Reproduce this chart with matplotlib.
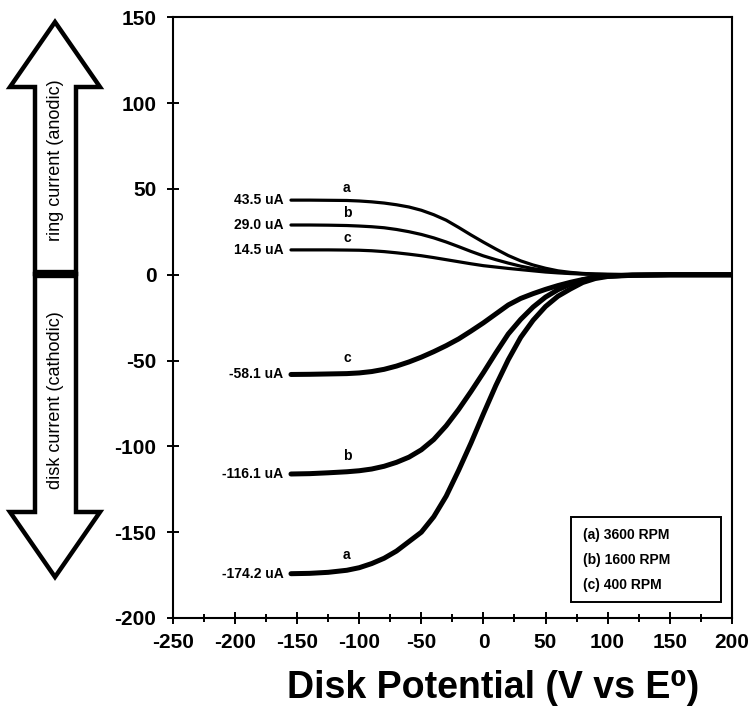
import numpy as np
import matplotlib.pyplot as plt
from matplotlib.patches import Polygon, Rectangle
from matplotlib.ticker import MultipleLocator

plt.rcParams['font.family'] = ['Liberation Sans', 'DejaVu Sans']
plt.rcParams['font.weight'] = 'bold'
plt.rcParams['axes.unicode_minus'] = False

# disk potential (mV vs E0)
x = [-155, -140, -125, -110, -100, -90, -80, -70, -60, -50, -40, -30, -20, -10,
     0, 10, 20, 30, 40, 50, 60, 70, 80, 90, 100, 120, 150, 200]

# disk currents (uA)
disk_a = [-174.2, -174, -173.4, -172.2, -170.7, -168.3, -165.2, -161, -155.5, -150, -141, -129, -114, -98,
          -81, -64.5, -49.5, -36.5, -26.5, -18.5, -12.5, -8.3, -4.5, -2.2, -1, -0.3, 0, 0]
disk_b = [-116.1, -115.9, -115.4, -114.8, -114.2, -113.2, -111.6, -109.3, -106.3, -102, -96, -88, -78.5, -68,
          -57, -45.5, -34.5, -26, -18.8, -13, -8.7, -5.5, -3, -1.5, -0.7, -0.2, 0, 0]
disk_c = [-58.1, -58, -57.8, -57.6, -57.2, -56.4, -55.1, -53.2, -50.8, -48, -44.8, -41.3, -37.4, -32.8,
          -28, -22.8, -17.6, -13.8, -11, -8.5, -6.3, -4.4, -2.8, -1.5, -0.7, -0.2, 0, 0]

# ring currents (uA)
ring_a = [43.5, 43.5, 43.4, 43.3, 43, 42.5, 41.8, 40.8, 39.5, 37.6, 35, 31.8, 27.6, 23.2,
          19, 15, 11.2, 8.1, 5.7, 3.8, 2.3, 1.4, 0.8, 0.4, 0.2, 0.1, 0, 0]
ring_b = [29, 29, 28.9, 28.7, 28.4, 28, 27.4, 26.4, 25.1, 23.5, 21.5, 19.1, 16.4, 13.6,
          11, 8.8, 6.8, 5, 3.6, 2.5, 1.6, 1, 0.6, 0.3, 0.2, 0.1, 0, 0]
ring_c = [14.5, 14.5, 14.5, 14.4, 14.3, 14, 13.5, 12.8, 12, 11.1, 10, 8.8, 7.6, 6.4,
          5.3, 4.5, 3.7, 3, 2.3, 1.6, 1.1, 0.7, 0.4, 0.3, 0.2, 0.1, 0, 0]

disk_labels = ['-174.2 uA', '-116.1 uA', '-58.1 uA']
ring_labels = ['43.5 uA', '29.0 uA', '14.5 uA']
letters = ['a', 'b', 'c']
legend_lines = ['(a) 3600 RPM', '(b) 1600 RPM', '(c) 400 RPM']

fig = plt.figure(figsize=(7.49, 7.21), dpi=100)
ax = fig.add_axes([0.231, 0.1429, 0.746, 0.833])

for ys in [disk_a, disk_b, disk_c]:
    ax.plot(x, ys, color='black', lw=3.6, solid_capstyle='round', solid_joinstyle='round')
for ys in [ring_a, ring_b, ring_c]:
    ax.plot(x, ys, color='black', lw=2.3, solid_capstyle='round', solid_joinstyle='round')

for ys, lab, let in zip([disk_a, disk_b, disk_c], disk_labels, letters):
    ax.text(x[0] - 6, ys[0], lab, ha='right', va='center', fontsize=10, fontweight='bold')
    ax.text(-110, ys[3] + 5, let, ha='center', va='bottom', fontsize=10, fontweight='bold')
for ys, lab, let in zip([ring_a, ring_b, ring_c], ring_labels, letters):
    ax.text(x[0] - 6, ys[0], lab, ha='right', va='center', fontsize=10, fontweight='bold')
    ax.text(-110, ys[3] + 3, let, ha='center', va='bottom', fontsize=10, fontweight='bold')

# legend box
ax.add_patch(Rectangle((0.712, 0.027), 0.268, 0.141, transform=ax.transAxes,
                       facecolor='white', edgecolor='black', lw=1.4, zorder=3))
for i, line in enumerate(legend_lines):
    ax.text(0.733, 0.138 - i * 0.0416, line, transform=ax.transAxes, ha='left', va='center',
            fontsize=10, fontweight='bold', zorder=4)

ax.set_xlim(-250, 200)
ax.set_ylim(-200, 150)
ax.xaxis.set_major_locator(MultipleLocator(50))
ax.xaxis.set_minor_locator(MultipleLocator(25))
ax.yaxis.set_major_locator(MultipleLocator(50))
ax.tick_params(which='major', direction='inout', length=8, width=1.4, labelsize=15)
ax.tick_params(which='minor', direction='inout', length=6, width=1.4)
ax.tick_params(axis='x', pad=7)
ax.tick_params(axis='y', pad=8)
for t in ax.get_xticklabels() + ax.get_yticklabels():
    t.set_fontweight('bold')
for s in ax.spines.values():
    s.set_linewidth(1.5)

fig.text(493 / 749.0, (721 - 688) / 721.0, 'Disk Potential (V vs E\u2070)', ha='center', va='center',
         fontsize=27, fontweight='bold')

# double-headed arrow on the left (figure pixel coords, origin top-left)
H = 721.0
def fig_pt(px, py):
    return (px / 749.0, (H - py) / H)

up = [fig_pt(*p) for p in [(35, 274), (35, 87), (10, 87), (55, 22), (100, 87), (76, 87), (76, 274)]]
down = [fig_pt(*p) for p in [(35, 274), (35, 512), (10, 512), (55, 577), (100, 512), (76, 512), (76, 274)]]
for pts in [up, down]:
    fig.patches.append(Polygon(pts, closed=True, facecolor='white', edgecolor='black', lw=3.2,
                               joinstyle='miter', transform=fig.transFigure))
fig.lines.append(plt.Line2D([35 / 749.0, 76 / 749.0], [(H - 274) / H] * 2, color='black', lw=6,
                            solid_capstyle='butt', transform=fig.transFigure))
fig.text(55 / 749.0, (H - 160) / H, 'ring current (anodic)', rotation=90, ha='center', va='center',
         fontsize=13, fontweight='normal')
fig.text(55 / 749.0, (H - 400) / H, 'disk current (cathodic)', rotation=90, ha='center', va='center',
         fontsize=13, fontweight='normal')

fig.savefig('out.png', dpi=100)
